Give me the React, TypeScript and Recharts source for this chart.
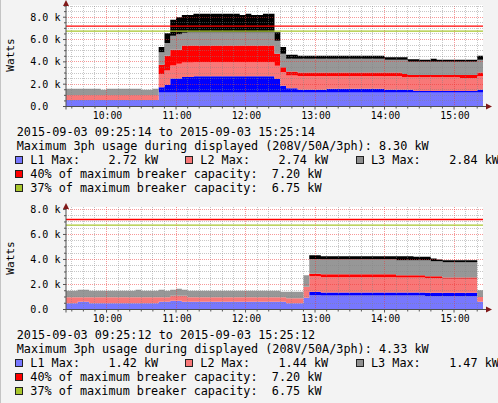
import React from "react";
import { AreaChart, Area, XAxis, YAxis, ReferenceLine } from "recharts";

const MONO = '"DejaVu Sans Mono", monospace';
const W = 498;
const PANEL_H = 203;
const PLOT_LEFT = 65;
const PLOT_RIGHT = 482;
const PLOT_BOTTOM = 106.5;

// 5-minute slots from 09:25 (minutes since midnight)
const FIRST_SLOT = 565;
const SLOT_MIN = 5;

// ---- top graph (kW per layer, stacked) ----
const topL1Avg = [
  0.59, 0.59, 0.59, 0.59, 0.59, 0.59, 0.59, 0.59, 0.59, 0.59, 0.59, 0.59,
  0.59, 0.59, 0.59, 0.59, 1.25, 1.25, 1.25, 1.25, 1.25, 1.25, 1.25, 1.25,
  1.25, 1.25, 1.25, 1.25, 1.25, 1.25, 1.25, 1.25, 1.25, 1.25, 1.25, 1.25,
  1.25, 1.25, 1.25, 1.25, 1.25, 1.25, 1.25, 1.25, 1.25, 1.25, 1.25, 1.25,
  1.25, 1.25, 1.25, 1.25, 1.25, 1.25, 1.25, 1.25, 1.25, 1.25, 1.25, 1.25,
  1.25, 1.25, 1.25, 1.25, 1.25, 1.25, 1.25, 1.25, 1.25, 1.25, 1.25, 1.25,
];
const topL1Peak = [
  0, 0, 0, 0, 0, 0, 0, 0, 0, 0, 0, 0,
  0, 0, 0, 0, 0.48, 0.69, 1.25, 1.25, 1.4, 1.4, 1.47, 1.47,
  1.47, 1.47, 1.47, 1.47, 1.47, 1.47, 1.47, 1.47, 1.47, 1.47, 1.47, 1.47,
  1.22, 0.6, 0.39, 0.39, 0.24, 0.24, 0.24, 0.24, 0.24, 0.33, 0.33, 0.33,
  0.33, 0.33, 0.33, 0.33, 0.33, 0.33, 0.33, 0.24, 0.24, 0.24, 0.24, 0.24,
  0.15, 0.15, 0.15, 0.15, 0.15, 0.15, 0.15, 0.15, 0.15, 0.15, 0.15, 0.24,
];
const topL2Avg = [
  0.45, 0.45, 0.45, 0.45, 0.45, 0.45, 0.45, 0.45, 0.45, 0.45, 0.45, 0.45,
  0.45, 0.45, 0.45, 0.45, 1.19, 1.28, 1.17, 1.32, 1.29, 1.29, 1.25, 1.25,
  1.25, 1.25, 1.25, 1.25, 1.25, 1.25, 1.25, 1.25, 1.25, 1.25, 1.25, 1.25,
  1.17, 1.23, 1.13, 1.13, 1.25, 1.25, 1.25, 1.25, 1.25, 1.16, 1.16, 1.16,
  1.16, 1.16, 1.16, 1.16, 1.16, 1.16, 1.16, 1.25, 1.25, 1.25, 1.14, 1.14,
  1.23, 1.23, 1.23, 1.23, 1.23, 1.23, 1.23, 1.23, 1.16, 1.16, 1.16, 1.25,
];
const topL2Peak = [
  0, 0, 0, 0, 0, 0, 0, 0, 0, 0, 0, 0,
  0, 0, 0, 0, 0.81, 1.32, 1.41, 1.26, 1.52, 1.52, 1.49, 1.49,
  1.49, 1.49, 1.49, 1.49, 1.49, 1.49, 1.49, 1.49, 1.49, 1.49, 1.49, 1.49,
  1.08, 0.44, 0.36, 0.36, 0.3, 0.3, 0.3, 0.3, 0.3, 0.3, 0.3, 0.3,
  0.3, 0.3, 0.3, 0.3, 0.3, 0.3, 0.3, 0.3, 0.3, 0.3, 0.29, 0.2,
  0.2, 0.2, 0.2, 0.2, 0.2, 0.2, 0.2, 0.2, 0.27, 0.27, 0.27, 0.3,
];
const topL3Avg = [
  0.54, 0.54, 0.54, 0.54, 0.54, 0.54, 0.45, 0.54, 0.54, 0.54, 0.54, 0.54,
  0.54, 0.45, 0.45, 0.54, 1.14, 1.16, 1.25, 1.39, 1.14, 1.2, 1.2, 1.2,
  1.2, 1.2, 1.2, 1.2, 1.2, 1.2, 1.2, 1.2, 1.2, 1.2, 1.2, 1.2,
  1.16, 1.2, 1.14, 1.14, 1.23, 1.23, 1.23, 1.23, 1.23, 1.23, 1.23, 1.23,
  1.23, 1.23, 1.23, 1.23, 1.23, 1.23, 1.23, 1.14, 1.14, 1.14, 1.26, 1.17,
  1.17, 1.17, 1.17, 1.17, 1.17, 1.17, 1.17, 1.17, 1.17, 1.17, 1.17, 1.14,
];
const topL3Peak = [
  0, 0, 0, 0, 0, 0, 0, 0, 0, 0, 0, 0,
  0, 0, 0, 0, 0.45, 0.87, 1.44, 1.53, 1.6, 1.54, 1.64, 1.64,
  1.64, 1.64, 1.64, 1.64, 1.64, 1.64, 1.54, 1.64, 1.54, 1.54, 1.64, 1.64,
  0.78, 0.6, 0.36, 0.36, 0.27, 0.27, 0.27, 0.27, 0.27, 0.27, 0.27, 0.27,
  0.27, 0.27, 0.27, 0.27, 0.27, 0.27, 0.27, 0.24, 0.24, 0.24, 0.24, 0.24,
  0.24, 0.18, 0.18, 0.27, 0.18, 0.18, 0.18, 0.18, 0.18, 0.18, 0.18, 0.36,
];

// ---- bottom graph ----
const botL1Avg = [
  0.5, 0.5, 0.61, 0.61, 0.5, 0.5, 0.5, 0.5, 0.5, 0.5, 0.5, 0.5,
  0.5, 0.5, 0.5, 0.5, 0.61, 0.61, 0.69, 0.69, 0.61, 0.61, 0.61, 0.61,
  0.61, 0.61, 0.61, 0.61, 0.61, 0.61, 0.61, 0.61, 0.61, 0.61, 0.61, 0.61,
  0.61, 0.61, 0.5, 0.5, 0.5, 0.93, 1.14, 1.14, 1.12, 1.12, 1.12, 1.12,
  1.12, 1.12, 1.12, 1.12, 1.12, 1.12, 1.12, 1.12, 1.12, 1.12, 1.12, 1.12,
  1.12, 1.12, 1.06, 1.06, 1.06, 1.06, 1.06, 1.06, 1.06, 1.06, 1.06, 0.61,
];
const botL1Peak = [
  0, 0, 0, 0, 0, 0, 0, 0, 0, 0, 0, 0,
  0, 0, 0, 0, 0, 0, 0, 0, 0, 0, 0, 0,
  0, 0, 0, 0, 0, 0, 0, 0, 0, 0, 0, 0,
  0, 0, 0, 0, 0, 0, 0.28, 0.28, 0.24, 0.24, 0.24, 0.24,
  0.24, 0.24, 0.24, 0.24, 0.24, 0.24, 0.24, 0.24, 0.24, 0.24, 0.24, 0.24,
  0.24, 0.24, 0.27, 0.27, 0.27, 0.27, 0.27, 0.27, 0.27, 0.27, 0.27, 0,
];
const botL2Avg = [
  0.48, 0.48, 0.37, 0.37, 0.48, 0.48, 0.48, 0.48, 0.48, 0.48, 0.48, 0.48,
  0.48, 0.48, 0.48, 0.48, 0.37, 0.37, 0.4, 0.4, 0.48, 0.37, 0.37, 0.37,
  0.37, 0.37, 0.37, 0.37, 0.37, 0.37, 0.37, 0.37, 0.37, 0.37, 0.37, 0.37,
  0.37, 0.37, 0.4, 0.4, 0.4, 0.88, 1.23, 1.23, 1.22, 1.22, 1.22, 1.22,
  1.22, 1.22, 1.22, 1.22, 1.22, 1.22, 1.22, 1.22, 1.22, 1.2, 1.2, 1.2,
  1.2, 1.2, 1.17, 1.17, 1.17, 1.12, 1.12, 1.12, 1.12, 1.12, 1.12, 0.39,
];
const botL2Peak = [
  0, 0, 0, 0, 0, 0, 0, 0, 0, 0, 0, 0,
  0, 0, 0, 0, 0, 0, 0, 0, 0, 0, 0, 0,
  0, 0, 0, 0, 0, 0, 0, 0, 0, 0, 0, 0,
  0, 0, 0, 0, 0, 0, 0.21, 0.21, 0.24, 0.24, 0.24, 0.24,
  0.24, 0.24, 0.24, 0.24, 0.24, 0.24, 0.24, 0.24, 0.24, 0.18, 0.18, 0.18,
  0.18, 0.18, 0.16, 0.16, 0.16, 0.11, 0.11, 0.11, 0.11, 0.11, 0.11, 0,
];
const botL3Avg = [
  0.51, 0.51, 0.59, 0.59, 0.51, 0.51, 0.51, 0.51, 0.51, 0.51, 0.51, 0.51,
  0.59, 0.51, 0.51, 0.51, 0.59, 0.51, 0.48, 0.56, 0.48, 0.51, 0.51, 0.51,
  0.51, 0.51, 0.51, 0.51, 0.51, 0.51, 0.51, 0.51, 0.51, 0.51, 0.51, 0.51,
  0.51, 0.43, 0.51, 0.51, 0.51, 0.93, 1.17, 1.17, 1.2, 1.2, 1.2, 1.2,
  1.2, 1.2, 1.2, 1.2, 1.2, 1.2, 1.2, 1.2, 1.2, 1.2, 1.2, 1.2,
  1.2, 1.2, 1.28, 1.2, 1.2, 1.22, 1.22, 1.22, 1.22, 1.22, 1.22, 0.54,
];
const botL3Peak = [
  0, 0, 0, 0, 0, 0, 0, 0, 0, 0, 0, 0,
  0, 0, 0, 0, 0, 0, 0, 0, 0, 0, 0, 0,
  0, 0, 0, 0, 0, 0, 0, 0, 0, 0, 0, 0,
  0, 0, 0, 0, 0, 0, 0.3, 0.3, 0.24, 0.24, 0.24, 0.24,
  0.24, 0.24, 0.24, 0.24, 0.24, 0.24, 0.24, 0.24, 0.24, 0.32, 0.32, 0.32,
  0.27, 0.27, 0.27, 0.22, 0.14, 0.16, 0.16, 0.16, 0.16, 0.16, 0.16, 0,
];

// axes
const xTicks = [
  570, 580, 590, 600, 610, 620, 630, 640, 650, 660, 670, 680, 690, 700, 710, 720, 730, 740,
  750, 760, 770, 780, 790, 800, 810, 820, 830, 840, 850, 860, 870, 880, 890, 900, 910, 920,
];
const topYTicks = [0, 0.5, 1, 1.5, 2, 2.5, 3, 3.5, 4, 4.5, 5, 5.5, 6, 6.5, 7, 7.5, 8, 8.5, 9];
const botYTicks = [0, 0.5, 1, 1.5, 2, 2.5, 3, 3.5, 4, 4.5, 5, 5.5, 6, 6.5, 7, 7.5, 8];

// legend values
const breakerPct = [40, 37];
const breakerKw = [7.2, 6.75];
const topMaxima = [2.72, 2.74, 2.84];
const botMaxima = [1.42, 1.44, 1.47];
const topTotal = 8.3;
const botTotal = 4.33;
const topRange = ["2015-09-03 09:25:14", "2015-09-03 15:25:14"];
const botRange = ["2015-09-03 09:25:12", "2015-09-03 15:25:12"];

const KEYS = ["l1Avg", "l1Peak", "l2Avg", "l2Peak", "l3Avg", "l3Peak"];
const FILLS = ["#7777ff", "#0000ff", "#f87878", "#ff0000", "#979797", "#000000"];
const LEGEND_FILLS = ["#7777ff", "#f87878", "#8f8f8f"];
const LINE_COLORS = ["#ff0000", "#a8c62c"];
const MINOR = "rgba(130,130,130,0.45)";
const MAJOR = "rgba(240,50,50,0.5)";

function buildRows(cols: number[][]) {
  const rows: any[] = cols[0].map((_, i) => {
    const r: any = { t: FIRST_SLOT + i * SLOT_MIN };
    KEYS.forEach((k, j) => (r[k] = cols[j][i]));
    return r;
  });
  // close the last step at the right edge
  rows.push({ ...rows[rows.length - 1], t: FIRST_SLOT + rows.length * SLOT_MIN });
  return rows;
}

const topRows = buildRows([topL1Avg, topL1Peak, topL2Avg, topL2Peak, topL3Avg, topL3Peak]);
const botRows = buildRows([botL1Avg, botL1Peak, botL2Avg, botL2Peak, botL3Avg, botL3Peak]);

const hhmm = (t: number) =>
  `${Math.floor(t / 60)}:${String(t % 60).padStart(2, "0")}`;

const XTick = (p: any) => {
  const t = p.payload.value;
  const major = t % 60 === 0;
  return (
    <g>
      <line x1={p.x} x2={p.x} y1={PLOT_BOTTOM} y2={PLOT_BOTTOM + (major ? 3 : 2)} stroke="#555" />
      {major && (
        <text x={p.x + 1} y={PLOT_BOTTOM + 9} dy="0.35em" textAnchor="middle" fontFamily={MONO} fontSize={9.8} fill="#000">
          {hhmm(t)}
        </text>
      )}
    </g>
  );
};

const YTick = (p: any) => {
  const v = p.payload.value;
  const major = v % 2 === 0;
  return (
    <g>
      <line x1={PLOT_LEFT - (major ? 3 : 2)} x2={PLOT_LEFT} y1={p.y} y2={p.y} stroke="#555" />
      {major && (
        <text x={29.3} y={p.y} dy="0.35em" fontFamily={MONO} fontSize={10} fill="#000">
          {v === 0 ? "0.0" : `${v.toFixed(1)} k`}
        </text>
      )}
    </g>
  );
};

type PanelProps = {
  offset: number;
  rows: any[];
  plotTop: number;
  yMax: number;
  yTicks: number[];
  range: string[];
  maxima: number[];
  total: number;
};

function Swatch({ left, center, color }: { left: number; center: number; color: string }) {
  return (
    <div
      style={{
        position: "absolute",
        left,
        top: center - 4,
        width: 8,
        height: 8,
        boxSizing: "border-box",
        border: "1px solid #222",
        background: color,
      }}
    />
  );
}

function Text({ left, center, children }: { left: number; center: number; children: any }) {
  return (
    <div
      style={{
        position: "absolute",
        left,
        top: center - 7,
        height: 14,
        lineHeight: "14px",
        whiteSpace: "pre",
        fontFamily: MONO,
        fontSize: 11.8,
        color: "#000",
      }}
    >
      {children}
    </div>
  );
}

function Panel({ offset, rows, plotTop, yMax, yTicks, range, maxima, total }: PanelProps) {
  const lines = [132, 146, 160, 174, 188];
  const cols = [
    { sq: 14, tx: 29.3 },
    { sq: 184, tx: 199.3 },
    { sq: 355.3, tx: 370 },
  ];
  return (
    <div style={{ position: "absolute", left: 0, top: offset, width: W, height: PANEL_H }}>
      <div
        style={{
          position: "absolute",
          left: PLOT_LEFT,
          top: plotTop,
          width: PLOT_RIGHT - PLOT_LEFT,
          height: PLOT_BOTTOM - plotTop,
          background: "#ffffff",
        }}
      />
      <div style={{ position: "absolute", left: 0, top: 0 }}>
        <AreaChart
          width={W}
          height={PANEL_H}
          data={rows}
          margin={{ top: plotTop, right: W - PLOT_RIGHT, bottom: PANEL_H - PLOT_BOTTOM - 30, left: PLOT_LEFT - 60 }}
        >
          <XAxis
            type="number"
            dataKey="t"
            domain={[FIRST_SLOT, FIRST_SLOT + 360]}
            ticks={xTicks}
            tick={<XTick />}
            interval={0}
            tickLine={false}
            axisLine={false}
            height={30}
            allowDataOverflow
          />
          <YAxis
            type="number"
            domain={[0, yMax]}
            ticks={yTicks}
            tick={<YTick />}
            interval={0}
            tickLine={false}
            axisLine={false}
            width={60}
            allowDataOverflow
          />
          {KEYS.map((k, j) => (
            <Area
              key={k}
              type="stepAfter"
              dataKey={k}
              stackId="phase"
              stroke="none"
              fill={FILLS[j]}
              fillOpacity={1}
              dot={false}
              activeDot={false}
              isAnimationActive={false}
            />
          ))}
          {xTicks.map((t) => (
            <ReferenceLine
              key={"gx" + t}
              x={t}
              stroke={t % 60 === 0 ? MAJOR : MINOR}
              strokeDasharray="1 1"
              shapeRendering="crispEdges"
            />
          ))}
          {yTicks
            .filter((v) => v > 0)
            .map((v) => (
              <ReferenceLine
                key={"gy" + v}
                y={v}
                stroke={v % 2 === 0 ? MAJOR : MINOR}
                strokeDasharray="1 1"
                shapeRendering="crispEdges"
              />
            ))}
          {breakerKw.map((kw, i) => (
            <ReferenceLine key={"b" + i} y={kw} stroke={LINE_COLORS[i]} strokeWidth={1.4} />
          ))}
        </AreaChart>
      </div>
      <svg width={W} height={PANEL_H} style={{ position: "absolute", left: 0, top: 0, pointerEvents: "none" }}>
        <line x1={PLOT_LEFT} x2={PLOT_LEFT} y1={PLOT_BOTTOM + 3} y2={3} stroke="#505050" />
        <line x1={PLOT_LEFT - 3} x2={486} y1={PLOT_BOTTOM} y2={PLOT_BOTTOM} stroke="#505050" />
        <polygon points={`${PLOT_LEFT - 3},6 ${PLOT_LEFT + 3},6 ${PLOT_LEFT},0`} fill="#801818" />
        <polygon points={`485,${PLOT_BOTTOM - 3} 485,${PLOT_BOTTOM + 3} 491,${PLOT_BOTTOM}`} fill="#801818" />
        <text
          x={9.5}
          y={55}
          dy="0.35em"
          transform="rotate(-90 9.5 55)"
          textAnchor="middle"
          fontFamily={MONO}
          fontSize={11.2}
          fill="#000"
        >
          Watts
        </text>
      </svg>
      <Text left={15.7} center={lines[0]}>{`${range[0]} to ${range[1]}`}</Text>
      <Text left={15.7} center={lines[1]}>
        {`Maximum 3ph usage during displayed (208V/50A/3ph): ${total.toFixed(2)} kW`}
      </Text>
      {maxima.map((m, i) => (
        <React.Fragment key={i}>
          <Swatch left={cols[i].sq} center={lines[2]} color={LEGEND_FILLS[i]} />
          <Text left={cols[i].tx} center={lines[2]}>{`L${i + 1} Max:    ${m.toFixed(2)} kW`}</Text>
        </React.Fragment>
      ))}
      {breakerPct.map((pct, i) => (
        <React.Fragment key={"bp" + i}>
          <Swatch left={14} center={lines[3 + i]} color={LINE_COLORS[i]} />
          <Text left={29.3} center={lines[3 + i]}>
            {`${pct}% of maximum breaker capacity:  ${breakerKw[i].toFixed(2)} kW`}
          </Text>
        </React.Fragment>
      ))}
    </div>
  );
}

export default function App() {
  return (
    <div
      style={{
        position: "absolute",
        left: 0,
        top: 0,
        width: W,
        height: 403,
        overflow: "hidden",
        background: "#f3f3f3",
        borderLeft: "1px solid #c4c4c4",
        boxSizing: "border-box",
      }}
    >
      <Panel
        offset={0}
        rows={topRows}
        plotTop={4.6}
        yMax={9.13}
        yTicks={topYTicks}
        range={topRange}
        maxima={topMaxima}
        total={topTotal}
      />
      <Panel
        offset={PANEL_H}
        rows={botRows}
        plotTop={3.7}
        yMax={8.22}
        yTicks={botYTicks}
        range={botRange}
        maxima={botMaxima}
        total={botTotal}
      />
    </div>
  );
}
